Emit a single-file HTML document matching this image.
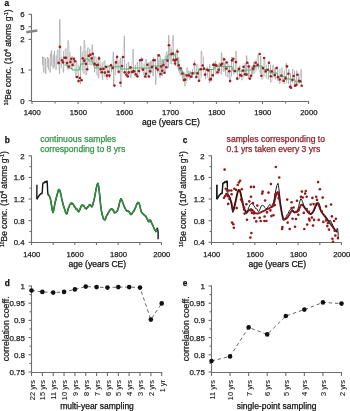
<!DOCTYPE html>
<html><head><meta charset="utf-8"><style>html,body{margin:0;padding:0;background:#fff;width:350px;height:411px;overflow:hidden}svg{display:block;filter:blur(0.35px)}text{font-family:"Liberation Sans",sans-serif}</style></head>
<body><svg width="350" height="411" viewBox="0 0 350 411" font-family="Liberation Sans, sans-serif"><text x="4.50" y="5.70" font-size="8.3" text-anchor="start" fill="#111" stroke="#111" stroke-width="0.25" font-weight="bold" >a</text>
<line x1="31.50" y1="14.00" x2="31.50" y2="101.50" stroke="#6e6e6e" stroke-width="1.1"/>
<line x1="28.50" y1="14.30" x2="31.50" y2="14.30" stroke="#6e6e6e" stroke-width="1.1"/>
<text x="24.50" y="17.20" font-size="7.8" text-anchor="end" fill="#222" stroke="#222" stroke-width="0.25" font-weight="normal" >6</text>
<line x1="28.50" y1="26.70" x2="31.50" y2="26.70" stroke="#6e6e6e" stroke-width="1.1"/>
<text x="24.50" y="29.60" font-size="7.8" text-anchor="end" fill="#222" stroke="#222" stroke-width="0.25" font-weight="normal" >5</text>
<line x1="28.50" y1="39.40" x2="31.50" y2="39.40" stroke="#6e6e6e" stroke-width="1.1"/>
<text x="24.50" y="42.30" font-size="7.8" text-anchor="end" fill="#222" stroke="#222" stroke-width="0.25" font-weight="normal" >2</text>
<line x1="28.50" y1="70.00" x2="31.50" y2="70.00" stroke="#6e6e6e" stroke-width="1.1"/>
<text x="24.50" y="72.90" font-size="7.8" text-anchor="end" fill="#222" stroke="#222" stroke-width="0.25" font-weight="normal" >1</text>
<line x1="28.50" y1="100.60" x2="31.50" y2="100.60" stroke="#6e6e6e" stroke-width="1.1"/>
<text x="24.50" y="103.50" font-size="7.8" text-anchor="end" fill="#222" stroke="#222" stroke-width="0.25" font-weight="normal" >0</text>
<line x1="26.3" y1="32.2" x2="37.3" y2="30.5" stroke="#858585" stroke-width="2.4"/>
<line x1="31.00" y1="101.50" x2="309.00" y2="101.50" stroke="#6e6e6e" stroke-width="1.1"/>
<line x1="32.00" y1="101.50" x2="32.00" y2="104.00" stroke="#6e6e6e" stroke-width="1.1"/>
<text x="32.30" y="115.20" font-size="7.7" text-anchor="middle" fill="#222" stroke="#222" stroke-width="0.25" font-weight="normal" >1400</text>
<line x1="55.05" y1="101.50" x2="55.05" y2="103.50" stroke="#6e6e6e" stroke-width="1.1"/>
<line x1="78.10" y1="101.50" x2="78.10" y2="104.00" stroke="#6e6e6e" stroke-width="1.1"/>
<text x="78.40" y="115.20" font-size="7.7" text-anchor="middle" fill="#222" stroke="#222" stroke-width="0.25" font-weight="normal" >1500</text>
<line x1="101.15" y1="101.50" x2="101.15" y2="103.50" stroke="#6e6e6e" stroke-width="1.1"/>
<line x1="124.20" y1="101.50" x2="124.20" y2="104.00" stroke="#6e6e6e" stroke-width="1.1"/>
<text x="124.50" y="115.20" font-size="7.7" text-anchor="middle" fill="#222" stroke="#222" stroke-width="0.25" font-weight="normal" >1600</text>
<line x1="147.25" y1="101.50" x2="147.25" y2="103.50" stroke="#6e6e6e" stroke-width="1.1"/>
<line x1="170.30" y1="101.50" x2="170.30" y2="104.00" stroke="#6e6e6e" stroke-width="1.1"/>
<text x="170.60" y="115.20" font-size="7.7" text-anchor="middle" fill="#222" stroke="#222" stroke-width="0.25" font-weight="normal" >1700</text>
<line x1="193.35" y1="101.50" x2="193.35" y2="103.50" stroke="#6e6e6e" stroke-width="1.1"/>
<line x1="216.40" y1="101.50" x2="216.40" y2="104.00" stroke="#6e6e6e" stroke-width="1.1"/>
<text x="216.70" y="115.20" font-size="7.7" text-anchor="middle" fill="#222" stroke="#222" stroke-width="0.25" font-weight="normal" >1800</text>
<line x1="239.45" y1="101.50" x2="239.45" y2="103.50" stroke="#6e6e6e" stroke-width="1.1"/>
<line x1="262.50" y1="101.50" x2="262.50" y2="104.00" stroke="#6e6e6e" stroke-width="1.1"/>
<text x="262.80" y="115.20" font-size="7.7" text-anchor="middle" fill="#222" stroke="#222" stroke-width="0.25" font-weight="normal" >1900</text>
<line x1="285.55" y1="101.50" x2="285.55" y2="103.50" stroke="#6e6e6e" stroke-width="1.1"/>
<line x1="308.60" y1="101.50" x2="308.60" y2="104.00" stroke="#6e6e6e" stroke-width="1.1"/>
<text x="308.90" y="115.20" font-size="7.7" text-anchor="middle" fill="#222" stroke="#222" stroke-width="0.25" font-weight="normal" >2000</text>
<text x="171.00" y="124.60" font-size="8.6" text-anchor="middle" fill="#111" stroke="#111" stroke-width="0.25" font-weight="normal" >age (years CE)</text>
<text transform="translate(10.5,57.3) rotate(-90)" font-size="8.5" text-anchor="middle" fill="#222" stroke="#222" stroke-width="0.25"><tspan font-size="5" dy="-3">10</tspan><tspan dy="3">Be conc. (10</tspan><tspan font-size="5" dy="-3">4</tspan><tspan dy="3"> atoms g</tspan><tspan font-size="5" dy="-3">-1</tspan><tspan dy="3">)</tspan></text>
<polyline points="42.50,56.40 42.90,65.00 43.80,72.50 44.20,57.00 45.40,58.40 45.80,73.80 47.20,67.00 47.60,57.00 48.50,58.40 48.90,69.80 50.20,72.50 50.60,53.70 51.60,50.40 52.00,65.80 53.20,68.50 53.60,55.00 54.50,51.00 54.90,67.00 56.10,69.80 56.50,55.70 57.80,49.70 58.20,64.50 59.60,73.80 60.00,19.40 61.20,57.00 61.60,67.80 63.60,72.50 64.00,51.00 65.90,48.40 66.30,65.80 67.90,69.80 68.30,40.40 69.90,51.90 70.30,67.90 71.90,69.40 72.30,56.20 73.80,57.70 74.20,66.40 76.00,78.10 76.40,60.60 78.20,65.00 78.60,82.50 80.40,84.00 80.80,46.00 82.10,51.90 82.50,70.80 84.00,73.70 84.40,40.20 85.90,50.40 86.30,75.20 87.70,70.80 88.10,47.50 89.80,49.00 90.20,65.00 92.00,65.00 92.40,44.60 93.35,53.35 93.75,66.19 94.70,72.30 95.10,56.20 96.90,59.20 97.30,75.20 98.80,78.10 99.20,56.20 100.80,63.50 101.20,73.70 102.70,79.60 103.10,62.00 104.90,60.60 105.30,76.60 107.10,79.60 107.50,65.00 109.30,65.00 109.70,78.10 111.50,72.30 111.90,63.50 113.40,51.90 113.80,85.40 115.10,75.20 115.50,62.00 116.90,54.80 117.30,69.40 118.80,73.70 119.20,60.60 120.70,57.70 121.10,86.90 122.20,72.30 122.60,56.20 124.40,35.80 124.80,73.70 126.50,76.60 126.90,63.50 128.70,62.00 129.10,75.20 130.90,78.10 131.30,66.40 133.10,49.00 133.50,73.70 135.30,76.60 135.70,65.00 137.50,62.00 137.90,78.10 139.70,73.70 140.10,59.20 141.80,57.70 142.20,70.80 144.00,75.20 144.40,63.50 146.20,59.20 146.60,78.10 148.10,76.10 148.50,62.50 149.35,62.25 149.75,73.09 150.60,74.40 151.00,60.80 151.90,61.49 152.30,73.18 153.20,76.10 153.60,57.40 155.40,62.50 155.80,84.60 157.40,72.70 157.80,54.00 158.70,59.52 159.10,72.25 160.00,77.80 160.40,55.70 161.25,59.65 161.65,75.45 162.50,76.10 162.90,59.00 163.80,61.64 164.20,71.00 165.10,72.70 165.50,55.70 166.80,51.68 167.20,68.36 168.50,67.60 168.90,35.20 169.80,44.47 170.20,59.59 171.10,64.20 171.50,48.90 173.10,35.20 173.50,60.80 175.50,65.90 175.90,52.30 177.20,48.90 177.60,67.60 178.45,70.51 178.85,56.98 179.70,64.20 180.10,74.40 181.00,75.71 181.40,67.89 182.30,69.30 182.70,79.50 183.55,79.67 183.95,73.80 184.80,72.70 185.20,86.30 186.90,81.20 187.30,67.60 188.40,70.88 188.80,77.48 189.90,79.50 190.30,71.00 191.20,72.08 191.60,76.83 192.50,77.80 192.90,69.30 194.70,60.80 195.10,74.40 196.80,77.80 197.20,64.20 198.90,68.50 199.30,81.60 201.10,77.30 201.50,51.00 203.30,56.90 203.70,71.40 205.50,78.70 205.90,68.50 207.60,67.10 208.00,77.30 209.50,83.10 209.90,64.20 211.30,70.00 211.70,81.60 213.50,77.30 213.90,62.70 215.70,61.20 216.10,74.40 217.90,74.40 218.30,64.20 219.30,62.70 219.70,72.90 221.20,74.40 221.60,52.50 223.00,56.90 223.40,71.40 224.30,71.29 224.70,62.94 225.60,61.20 226.00,75.80 227.80,77.30 228.20,64.20 229.70,65.60 230.10,81.60 231.50,75.80 231.90,56.90 233.60,59.80 234.00,74.40 235.80,72.90 236.20,51.00 237.30,68.50 237.70,80.20 239.50,78.70 239.90,65.60 241.70,70.00 242.10,80.20 243.90,77.30 244.30,65.60 245.10,63.15 245.50,75.52 246.30,75.80 246.70,55.40 248.20,62.70 248.60,77.30 249.00,79.40 249.40,64.80 251.30,66.20 251.70,77.90 252.55,74.36 252.95,65.74 253.80,61.90 254.20,73.50 256.00,70.60 256.40,60.40 258.20,54.60 258.60,69.20 260.40,73.50 260.80,56.00 261.80,66.20 262.20,79.40 264.00,76.40 264.40,57.50 266.20,64.80 266.60,77.90 268.40,79.40 268.80,61.90 270.60,64.80 271.00,82.30 272.80,77.90 273.20,64.80 274.10,68.11 274.50,77.29 275.40,79.40 275.80,67.70 277.60,66.20 278.00,80.80 279.80,83.70 280.20,69.20 282.00,67.70 282.40,82.30 284.20,83.70 284.60,70.60 286.40,63.30 286.80,82.30 288.60,83.70 289.00,69.20 290.50,73.50 290.90,88.10 292.50,82.30 292.90,69.20 294.40,70.60 294.80,85.20 296.60,86.60 297.00,70.60 298.80,73.50 299.20,83.70 301.20,69.20 301.50,83.70" fill="none" stroke="#b5b5b5" stroke-width="0.45" stroke-linejoin="round" />
<path d="M42.50 56.40L42.55 65.00M43.80 72.50L43.85 57.00M45.40 58.40L45.45 73.80M47.20 67.00L47.25 57.00M48.50 58.40L48.55 69.80M50.20 72.50L50.25 53.70M51.60 50.40L51.65 65.80M53.20 68.50L53.25 55.00M54.50 51.00L54.55 67.00M56.10 69.80L56.15 55.70M57.80 49.70L57.85 64.50M59.60 73.80L59.65 19.40M61.20 57.00L61.25 67.80M63.60 72.50L63.65 51.00M65.90 48.40L65.95 65.80M67.90 69.80L67.95 40.40M69.90 51.90L69.95 67.90M71.90 69.40L71.95 56.20M73.80 57.70L73.85 66.40M76.00 78.10L76.05 60.60M78.20 65.00L78.25 82.50M80.40 84.00L80.45 46.00M82.10 51.90L82.15 70.80M84.00 73.70L84.05 40.20M85.90 50.40L85.95 75.20M87.70 70.80L87.75 47.50M89.80 49.00L89.85 65.00M92.00 65.00L92.05 44.60M93.35 53.35L93.40 66.19M94.70 72.30L94.75 56.20M96.90 59.20L96.95 75.20M98.80 78.10L98.85 56.20M100.80 63.50L100.85 73.70M102.70 79.60L102.75 62.00M104.90 60.60L104.95 76.60M107.10 79.60L107.15 65.00M109.30 65.00L109.35 78.10M111.50 72.30L111.55 63.50M113.40 51.90L113.45 85.40M115.10 75.20L115.15 62.00M116.90 54.80L116.95 69.40M118.80 73.70L118.85 60.60M120.70 57.70L120.75 86.90M122.20 72.30L122.25 56.20M124.40 35.80L124.45 73.70M126.50 76.60L126.55 63.50M128.70 62.00L128.75 75.20M130.90 78.10L130.95 66.40M133.10 49.00L133.15 73.70M135.30 76.60L135.35 65.00M137.50 62.00L137.55 78.10M139.70 73.70L139.75 59.20M141.80 57.70L141.85 70.80M144.00 75.20L144.05 63.50M146.20 59.20L146.25 78.10M148.10 76.10L148.15 62.50M149.35 62.25L149.40 73.09M150.60 74.40L150.65 60.80M151.90 61.49L151.95 73.18M153.20 76.10L153.25 57.40M155.40 62.50L155.45 84.60M157.40 72.70L157.45 54.00M158.70 59.52L158.75 72.25M160.00 77.80L160.05 55.70M161.25 59.65L161.30 75.45M162.50 76.10L162.55 59.00M163.80 61.64L163.85 71.00M165.10 72.70L165.15 55.70M166.80 51.68L166.85 68.36M168.50 67.60L168.55 35.20M169.80 44.47L169.85 59.59M171.10 64.20L171.15 48.90M173.10 35.20L173.15 60.80M175.50 65.90L175.55 52.30M177.20 48.90L177.25 67.60M178.45 70.51L178.50 56.98M179.70 64.20L179.75 74.40M181.00 75.71L181.05 67.89M182.30 69.30L182.35 79.50M183.55 79.67L183.60 73.80M184.80 72.70L184.85 86.30M186.90 81.20L186.95 67.60M188.40 70.88L188.45 77.48M189.90 79.50L189.95 71.00M191.20 72.08L191.25 76.83M192.50 77.80L192.55 69.30M194.70 60.80L194.75 74.40M196.80 77.80L196.85 64.20M198.90 68.50L198.95 81.60M201.10 77.30L201.15 51.00M203.30 56.90L203.35 71.40M205.50 78.70L205.55 68.50M207.60 67.10L207.65 77.30M209.50 83.10L209.55 64.20M211.30 70.00L211.35 81.60M213.50 77.30L213.55 62.70M215.70 61.20L215.75 74.40M217.90 74.40L217.95 64.20M219.30 62.70L219.35 72.90M221.20 74.40L221.25 52.50M223.00 56.90L223.05 71.40M224.30 71.29L224.35 62.94M225.60 61.20L225.65 75.80M227.80 77.30L227.85 64.20M229.70 65.60L229.75 81.60M231.50 75.80L231.55 56.90M233.60 59.80L233.65 74.40M235.80 72.90L235.85 51.00M237.30 68.50L237.35 80.20M239.50 78.70L239.55 65.60M241.70 70.00L241.75 80.20M243.90 77.30L243.95 65.60M245.10 63.15L245.15 75.52M246.30 75.80L246.35 55.40M248.20 62.70L248.25 77.30M249.00 79.40L249.05 64.80M251.30 66.20L251.35 77.90M252.55 74.36L252.60 65.74M253.80 61.90L253.85 73.50M256.00 70.60L256.05 60.40M258.20 54.60L258.25 69.20M260.40 73.50L260.45 56.00M261.80 66.20L261.85 79.40M264.00 76.40L264.05 57.50M266.20 64.80L266.25 77.90M268.40 79.40L268.45 61.90M270.60 64.80L270.65 82.30M272.80 77.90L272.85 64.80M274.10 68.11L274.15 77.29M275.40 79.40L275.45 67.70M277.60 66.20L277.65 80.80M279.80 83.70L279.85 69.20M282.00 67.70L282.05 82.30M284.20 83.70L284.25 70.60M286.40 63.30L286.45 82.30M288.60 83.70L288.65 69.20M290.50 73.50L290.55 88.10M292.50 82.30L292.55 69.20M294.40 70.60L294.45 85.20M296.60 86.60L296.65 70.60M298.80 73.50L298.85 83.70M301.20 69.20L301.25 83.70" stroke="#999" stroke-width="0.65" fill="none"/>
<polyline points="64.50,64.90 67.50,64.90 68.40,67.90 72.00,68.50 72.50,70.00 79.30,70.00 80.70,64.00 83.60,63.90 84.50,58.90 88.00,58.90 89.00,61.00 92.00,61.00 95.00,67.90 106.00,67.90 107.00,66.70 120.00,66.70 121.00,69.00 129.00,69.00 130.00,67.90 152.00,67.90 153.00,66.00 163.00,66.00 164.00,60.00 167.00,59.00 168.00,54.80 175.00,54.80 176.00,60.60 178.00,60.60 179.00,69.40 183.00,72.00 184.00,74.70 189.00,74.70 190.00,72.90 198.00,72.90 199.00,69.40 214.00,69.40 215.00,66.50 232.00,66.50 233.00,71.00 246.00,71.00 247.00,70.00 254.00,70.00 255.00,66.10 262.00,66.10 263.00,69.60 269.00,69.60 270.00,73.00 277.00,73.00 278.00,76.40 286.00,76.40 287.00,79.00 294.50,79.00 295.50,82.00 302.00,82.00" fill="none" stroke="#58b674" stroke-width="1.05" stroke-linejoin="round" />
<circle cx="59.90" cy="46.90" r="1.3" fill="#a01c22"/>
<circle cx="58.70" cy="62.90" r="1.3" fill="#a01c22"/>
<circle cx="62.00" cy="60.20" r="1.3" fill="#a01c22"/>
<circle cx="63.10" cy="62.40" r="1.3" fill="#a01c22"/>
<circle cx="64.40" cy="57.70" r="1.3" fill="#a01c22"/>
<circle cx="66.00" cy="57.70" r="1.3" fill="#a01c22"/>
<circle cx="67.10" cy="63.00" r="1.3" fill="#a01c22"/>
<circle cx="68.80" cy="66.50" r="1.3" fill="#a01c22"/>
<circle cx="70.40" cy="61.90" r="1.3" fill="#a01c22"/>
<circle cx="71.30" cy="58.80" r="1.3" fill="#a01c22"/>
<circle cx="72.60" cy="64.90" r="1.3" fill="#a01c22"/>
<circle cx="74.00" cy="58.80" r="1.3" fill="#a01c22"/>
<circle cx="75.00" cy="61.30" r="1.3" fill="#a01c22"/>
<circle cx="77.00" cy="77.00" r="1.3" fill="#a01c22"/>
<circle cx="78.60" cy="81.00" r="1.3" fill="#a01c22"/>
<circle cx="80.00" cy="78.00" r="1.3" fill="#a01c22"/>
<circle cx="81.60" cy="80.30" r="1.3" fill="#a01c22"/>
<circle cx="82.80" cy="58.40" r="1.3" fill="#a01c22"/>
<circle cx="84.30" cy="60.80" r="1.3" fill="#a01c22"/>
<circle cx="86.00" cy="63.90" r="1.3" fill="#a01c22"/>
<circle cx="87.10" cy="69.30" r="1.3" fill="#a01c22"/>
<circle cx="88.70" cy="55.90" r="1.3" fill="#a01c22"/>
<circle cx="90.40" cy="54.80" r="1.3" fill="#a01c22"/>
<circle cx="91.70" cy="58.40" r="1.3" fill="#a01c22"/>
<circle cx="92.80" cy="53.70" r="1.3" fill="#a01c22"/>
<circle cx="94.70" cy="63.90" r="1.3" fill="#a01c22"/>
<circle cx="96.80" cy="65.20" r="1.3" fill="#a01c22"/>
<circle cx="97.90" cy="64.90" r="1.3" fill="#a01c22"/>
<circle cx="99.00" cy="58.40" r="1.3" fill="#a01c22"/>
<circle cx="100.70" cy="69.30" r="1.3" fill="#a01c22"/>
<circle cx="101.80" cy="72.30" r="1.3" fill="#a01c22"/>
<circle cx="103.40" cy="69.00" r="1.3" fill="#a01c22"/>
<circle cx="104.80" cy="72.60" r="1.3" fill="#a01c22"/>
<circle cx="105.90" cy="66.80" r="1.3" fill="#a01c22"/>
<circle cx="107.00" cy="75.60" r="1.3" fill="#a01c22"/>
<circle cx="108.30" cy="71.70" r="1.3" fill="#a01c22"/>
<circle cx="109.40" cy="75.60" r="1.3" fill="#a01c22"/>
<circle cx="111.00" cy="65.20" r="1.3" fill="#a01c22"/>
<circle cx="112.70" cy="67.90" r="1.3" fill="#a01c22"/>
<circle cx="116.00" cy="62.40" r="1.3" fill="#a01c22"/>
<circle cx="117.10" cy="57.00" r="1.3" fill="#a01c22"/>
<circle cx="118.70" cy="71.70" r="1.3" fill="#a01c22"/>
<circle cx="114.40" cy="85.60" r="1.3" fill="#a01c22"/>
<circle cx="120.40" cy="82.70" r="1.3" fill="#a01c22"/>
<circle cx="122.00" cy="66.00" r="1.3" fill="#a01c22"/>
<circle cx="123.10" cy="57.00" r="1.3" fill="#a01c22"/>
<circle cx="124.70" cy="72.30" r="1.3" fill="#a01c22"/>
<circle cx="126.40" cy="74.50" r="1.3" fill="#a01c22"/>
<circle cx="127.80" cy="76.40" r="1.3" fill="#a01c22"/>
<circle cx="128.70" cy="72.40" r="1.3" fill="#a01c22"/>
<circle cx="130.40" cy="67.40" r="1.3" fill="#a01c22"/>
<circle cx="132.00" cy="72.10" r="1.3" fill="#a01c22"/>
<circle cx="133.40" cy="71.00" r="1.3" fill="#a01c22"/>
<circle cx="134.20" cy="71.50" r="1.3" fill="#a01c22"/>
<circle cx="135.80" cy="74.30" r="1.3" fill="#a01c22"/>
<circle cx="137.30" cy="76.20" r="1.3" fill="#a01c22"/>
<circle cx="138.90" cy="71.00" r="1.3" fill="#a01c22"/>
<circle cx="140.20" cy="60.30" r="1.3" fill="#a01c22"/>
<circle cx="141.90" cy="59.80" r="1.3" fill="#a01c22"/>
<circle cx="143.00" cy="69.60" r="1.3" fill="#a01c22"/>
<circle cx="145.10" cy="76.50" r="1.3" fill="#a01c22"/>
<circle cx="146.00" cy="73.70" r="1.3" fill="#a01c22"/>
<circle cx="147.30" cy="64.70" r="1.3" fill="#a01c22"/>
<circle cx="149.00" cy="76.50" r="1.3" fill="#a01c22"/>
<circle cx="150.10" cy="71.30" r="1.3" fill="#a01c22"/>
<circle cx="152.00" cy="66.90" r="1.3" fill="#a01c22"/>
<circle cx="153.40" cy="60.30" r="1.3" fill="#a01c22"/>
<circle cx="154.70" cy="60.30" r="1.3" fill="#a01c22"/>
<circle cx="156.10" cy="68.00" r="1.3" fill="#a01c22"/>
<circle cx="157.70" cy="69.60" r="1.3" fill="#a01c22"/>
<circle cx="158.80" cy="55.40" r="1.3" fill="#a01c22"/>
<circle cx="160.50" cy="74.00" r="1.3" fill="#a01c22"/>
<circle cx="161.20" cy="66.50" r="1.3" fill="#a01c22"/>
<circle cx="162.20" cy="70.80" r="1.3" fill="#a01c22"/>
<circle cx="163.40" cy="65.00" r="1.3" fill="#a01c22"/>
<circle cx="164.50" cy="72.70" r="1.3" fill="#a01c22"/>
<circle cx="166.30" cy="67.20" r="1.3" fill="#a01c22"/>
<circle cx="167.50" cy="60.60" r="1.3" fill="#a01c22"/>
<circle cx="168.90" cy="45.30" r="1.3" fill="#a01c22"/>
<circle cx="171.40" cy="54.10" r="1.3" fill="#a01c22"/>
<circle cx="172.90" cy="53.60" r="1.3" fill="#a01c22"/>
<circle cx="173.60" cy="59.90" r="1.3" fill="#a01c22"/>
<circle cx="175.00" cy="60.60" r="1.3" fill="#a01c22"/>
<circle cx="176.50" cy="59.20" r="1.3" fill="#a01c22"/>
<circle cx="175.00" cy="63.50" r="1.3" fill="#a01c22"/>
<circle cx="177.50" cy="51.60" r="1.3" fill="#a01c22"/>
<circle cx="178.70" cy="65.30" r="1.3" fill="#a01c22"/>
<circle cx="180.60" cy="68.20" r="1.3" fill="#a01c22"/>
<circle cx="182.30" cy="73.50" r="1.3" fill="#a01c22"/>
<circle cx="184.10" cy="80.30" r="1.3" fill="#a01c22"/>
<circle cx="185.00" cy="79.60" r="1.3" fill="#a01c22"/>
<circle cx="186.70" cy="75.50" r="1.3" fill="#a01c22"/>
<circle cx="188.90" cy="75.50" r="1.3" fill="#a01c22"/>
<circle cx="191.10" cy="76.70" r="1.3" fill="#a01c22"/>
<circle cx="192.60" cy="73.40" r="1.3" fill="#a01c22"/>
<circle cx="194.40" cy="64.30" r="1.3" fill="#a01c22"/>
<circle cx="196.30" cy="77.10" r="1.3" fill="#a01c22"/>
<circle cx="197.50" cy="73.40" r="1.3" fill="#a01c22"/>
<circle cx="199.00" cy="80.70" r="1.3" fill="#a01c22"/>
<circle cx="200.70" cy="69.20" r="1.3" fill="#a01c22"/>
<circle cx="202.70" cy="65.50" r="1.3" fill="#a01c22"/>
<circle cx="203.90" cy="68.60" r="1.3" fill="#a01c22"/>
<circle cx="205.10" cy="74.60" r="1.3" fill="#a01c22"/>
<circle cx="207.20" cy="69.80" r="1.3" fill="#a01c22"/>
<circle cx="208.40" cy="70.40" r="1.3" fill="#a01c22"/>
<circle cx="210.00" cy="79.50" r="1.3" fill="#a01c22"/>
<circle cx="210.80" cy="78.90" r="1.3" fill="#a01c22"/>
<circle cx="212.70" cy="75.20" r="1.3" fill="#a01c22"/>
<circle cx="213.30" cy="64.90" r="1.3" fill="#a01c22"/>
<circle cx="215.10" cy="64.90" r="1.3" fill="#a01c22"/>
<circle cx="216.30" cy="65.50" r="1.3" fill="#a01c22"/>
<circle cx="217.50" cy="72.20" r="1.3" fill="#a01c22"/>
<circle cx="218.70" cy="69.80" r="1.3" fill="#a01c22"/>
<circle cx="220.90" cy="64.90" r="1.3" fill="#a01c22"/>
<circle cx="222.10" cy="63.70" r="1.3" fill="#a01c22"/>
<circle cx="224.20" cy="59.40" r="1.3" fill="#a01c22"/>
<circle cx="226.30" cy="68.60" r="1.3" fill="#a01c22"/>
<circle cx="226.80" cy="62.50" r="1.3" fill="#a01c22"/>
<circle cx="229.30" cy="71.30" r="1.3" fill="#a01c22"/>
<circle cx="230.10" cy="81.10" r="1.3" fill="#a01c22"/>
<circle cx="232.00" cy="60.40" r="1.3" fill="#a01c22"/>
<circle cx="233.30" cy="58.80" r="1.3" fill="#a01c22"/>
<circle cx="234.70" cy="71.00" r="1.3" fill="#a01c22"/>
<circle cx="235.90" cy="62.10" r="1.3" fill="#a01c22"/>
<circle cx="237.20" cy="78.60" r="1.3" fill="#a01c22"/>
<circle cx="239.00" cy="68.90" r="1.3" fill="#a01c22"/>
<circle cx="240.20" cy="75.00" r="1.3" fill="#a01c22"/>
<circle cx="241.40" cy="75.80" r="1.3" fill="#a01c22"/>
<circle cx="243.00" cy="70.60" r="1.3" fill="#a01c22"/>
<circle cx="243.50" cy="66.70" r="1.3" fill="#a01c22"/>
<circle cx="245.00" cy="74.30" r="1.3" fill="#a01c22"/>
<circle cx="246.60" cy="74.60" r="1.3" fill="#a01c22"/>
<circle cx="247.20" cy="62.80" r="1.3" fill="#a01c22"/>
<circle cx="248.70" cy="66.50" r="1.3" fill="#a01c22"/>
<circle cx="249.90" cy="78.60" r="1.3" fill="#a01c22"/>
<circle cx="251.10" cy="75.80" r="1.3" fill="#a01c22"/>
<circle cx="253.00" cy="68.60" r="1.3" fill="#a01c22"/>
<circle cx="254.20" cy="66.10" r="1.3" fill="#a01c22"/>
<circle cx="255.60" cy="62.80" r="1.3" fill="#a01c22"/>
<circle cx="257.60" cy="64.90" r="1.3" fill="#a01c22"/>
<circle cx="259.70" cy="54.00" r="1.3" fill="#a01c22"/>
<circle cx="261.40" cy="75.80" r="1.3" fill="#a01c22"/>
<circle cx="263.00" cy="68.00" r="1.3" fill="#a01c22"/>
<circle cx="264.10" cy="58.00" r="1.3" fill="#a01c22"/>
<circle cx="265.70" cy="71.40" r="1.3" fill="#a01c22"/>
<circle cx="267.70" cy="69.70" r="1.3" fill="#a01c22"/>
<circle cx="269.00" cy="62.70" r="1.3" fill="#a01c22"/>
<circle cx="270.80" cy="76.30" r="1.3" fill="#a01c22"/>
<circle cx="271.70" cy="71.40" r="1.3" fill="#a01c22"/>
<circle cx="274.80" cy="75.00" r="1.3" fill="#a01c22"/>
<circle cx="276.60" cy="68.00" r="1.3" fill="#a01c22"/>
<circle cx="277.90" cy="77.30" r="1.3" fill="#a01c22"/>
<circle cx="279.70" cy="79.50" r="1.3" fill="#a01c22"/>
<circle cx="281.40" cy="75.50" r="1.3" fill="#a01c22"/>
<circle cx="283.70" cy="80.80" r="1.3" fill="#a01c22"/>
<circle cx="285.40" cy="78.40" r="1.3" fill="#a01c22"/>
<circle cx="287.00" cy="66.40" r="1.3" fill="#a01c22"/>
<circle cx="288.40" cy="73.70" r="1.3" fill="#a01c22"/>
<circle cx="290.00" cy="86.70" r="1.3" fill="#a01c22"/>
<circle cx="291.00" cy="87.70" r="1.3" fill="#a01c22"/>
<circle cx="292.40" cy="80.00" r="1.3" fill="#a01c22"/>
<circle cx="293.70" cy="76.00" r="1.3" fill="#a01c22"/>
<circle cx="295.00" cy="85.70" r="1.3" fill="#a01c22"/>
<circle cx="296.40" cy="84.80" r="1.3" fill="#a01c22"/>
<circle cx="297.40" cy="74.70" r="1.3" fill="#a01c22"/>
<circle cx="299.00" cy="80.80" r="1.3" fill="#a01c22"/>
<circle cx="300.10" cy="81.30" r="1.3" fill="#a01c22"/>
<circle cx="301.70" cy="85.70" r="1.3" fill="#a01c22"/>
<text x="4.70" y="143.00" font-size="8.3" text-anchor="start" fill="#111" stroke="#111" stroke-width="0.25" font-weight="bold" >b</text>
<line x1="31.50" y1="155.50" x2="31.50" y2="242.50" stroke="#6e6e6e" stroke-width="1.1"/>
<line x1="28.50" y1="155.80" x2="31.50" y2="155.80" stroke="#6e6e6e" stroke-width="1.1"/>
<text x="24.60" y="158.70" font-size="7.8" text-anchor="end" fill="#222" stroke="#222" stroke-width="0.25" font-weight="normal" >2</text>
<line x1="29.50" y1="166.62" x2="31.50" y2="166.62" stroke="#6e6e6e" stroke-width="1.1"/>
<line x1="28.50" y1="177.43" x2="31.50" y2="177.43" stroke="#6e6e6e" stroke-width="1.1"/>
<text x="24.60" y="180.33" font-size="7.8" text-anchor="end" fill="#222" stroke="#222" stroke-width="0.25" font-weight="normal" >1.6</text>
<line x1="29.50" y1="188.24" x2="31.50" y2="188.24" stroke="#6e6e6e" stroke-width="1.1"/>
<line x1="28.50" y1="199.05" x2="31.50" y2="199.05" stroke="#6e6e6e" stroke-width="1.1"/>
<text x="24.60" y="201.95" font-size="7.8" text-anchor="end" fill="#222" stroke="#222" stroke-width="0.25" font-weight="normal" >1.2</text>
<line x1="29.50" y1="209.86" x2="31.50" y2="209.86" stroke="#6e6e6e" stroke-width="1.1"/>
<line x1="28.50" y1="220.68" x2="31.50" y2="220.68" stroke="#6e6e6e" stroke-width="1.1"/>
<text x="24.60" y="223.58" font-size="7.8" text-anchor="end" fill="#222" stroke="#222" stroke-width="0.25" font-weight="normal" >0.8</text>
<line x1="29.50" y1="231.49" x2="31.50" y2="231.49" stroke="#6e6e6e" stroke-width="1.1"/>
<line x1="28.50" y1="242.30" x2="31.50" y2="242.30" stroke="#6e6e6e" stroke-width="1.1"/>
<text x="24.60" y="245.20" font-size="7.8" text-anchor="end" fill="#222" stroke="#222" stroke-width="0.25" font-weight="normal" >0.4</text>
<line x1="31.00" y1="242.50" x2="161.50" y2="242.50" stroke="#6e6e6e" stroke-width="1.1"/>
<line x1="31.50" y1="242.50" x2="31.50" y2="245.00" stroke="#6e6e6e" stroke-width="1.1"/>
<text x="31.80" y="257.00" font-size="7.7" text-anchor="middle" fill="#222" stroke="#222" stroke-width="0.25" font-weight="normal" >1400</text>
<line x1="53.16" y1="242.50" x2="53.16" y2="245.00" stroke="#6e6e6e" stroke-width="1.1"/>
<line x1="74.82" y1="242.50" x2="74.82" y2="245.00" stroke="#6e6e6e" stroke-width="1.1"/>
<text x="75.12" y="257.00" font-size="7.7" text-anchor="middle" fill="#222" stroke="#222" stroke-width="0.25" font-weight="normal" >1600</text>
<line x1="96.48" y1="242.50" x2="96.48" y2="245.00" stroke="#6e6e6e" stroke-width="1.1"/>
<line x1="118.14" y1="242.50" x2="118.14" y2="245.00" stroke="#6e6e6e" stroke-width="1.1"/>
<text x="118.44" y="257.00" font-size="7.7" text-anchor="middle" fill="#222" stroke="#222" stroke-width="0.25" font-weight="normal" >1800</text>
<line x1="139.80" y1="242.50" x2="139.80" y2="245.00" stroke="#6e6e6e" stroke-width="1.1"/>
<line x1="161.46" y1="242.50" x2="161.46" y2="245.00" stroke="#6e6e6e" stroke-width="1.1"/>
<text x="161.76" y="257.00" font-size="7.7" text-anchor="middle" fill="#222" stroke="#222" stroke-width="0.25" font-weight="normal" >2000</text>
<text x="97.30" y="267.30" font-size="8.6" text-anchor="middle" fill="#111" stroke="#111" stroke-width="0.25" font-weight="normal" >age (years CE)</text>
<text transform="translate(6.6,199.1) rotate(-90)" font-size="8.5" text-anchor="middle" fill="#222" stroke="#222" stroke-width="0.25"><tspan font-size="5" dy="-3">10</tspan><tspan dy="3">Be conc. (10</tspan><tspan font-size="5" dy="-3">4</tspan><tspan dy="3"> atoms g</tspan><tspan font-size="5" dy="-3">-1</tspan><tspan dy="3">)</tspan></text>
<text x="40.20" y="142.30" font-size="8.6" text-anchor="start" fill="#34944a" stroke="#34944a" stroke-width="0.25" font-weight="normal" >continuous samples</text>
<text x="40.20" y="152.00" font-size="8.6" text-anchor="start" fill="#34944a" stroke="#34944a" stroke-width="0.25" font-weight="normal" >corresponding to 8 yrs</text>
<text x="182.70" y="143.20" font-size="8.3" text-anchor="start" fill="#111" stroke="#111" stroke-width="0.25" font-weight="bold" >c</text>
<line x1="211.50" y1="155.50" x2="211.50" y2="242.50" stroke="#6e6e6e" stroke-width="1.1"/>
<line x1="208.50" y1="155.80" x2="211.50" y2="155.80" stroke="#6e6e6e" stroke-width="1.1"/>
<text x="204.60" y="158.70" font-size="7.8" text-anchor="end" fill="#222" stroke="#222" stroke-width="0.25" font-weight="normal" >2</text>
<line x1="209.50" y1="166.62" x2="211.50" y2="166.62" stroke="#6e6e6e" stroke-width="1.1"/>
<line x1="208.50" y1="177.43" x2="211.50" y2="177.43" stroke="#6e6e6e" stroke-width="1.1"/>
<text x="204.60" y="180.33" font-size="7.8" text-anchor="end" fill="#222" stroke="#222" stroke-width="0.25" font-weight="normal" >1.6</text>
<line x1="209.50" y1="188.24" x2="211.50" y2="188.24" stroke="#6e6e6e" stroke-width="1.1"/>
<line x1="208.50" y1="199.05" x2="211.50" y2="199.05" stroke="#6e6e6e" stroke-width="1.1"/>
<text x="204.60" y="201.95" font-size="7.8" text-anchor="end" fill="#222" stroke="#222" stroke-width="0.25" font-weight="normal" >1.2</text>
<line x1="209.50" y1="209.86" x2="211.50" y2="209.86" stroke="#6e6e6e" stroke-width="1.1"/>
<line x1="208.50" y1="220.68" x2="211.50" y2="220.68" stroke="#6e6e6e" stroke-width="1.1"/>
<text x="204.60" y="223.58" font-size="7.8" text-anchor="end" fill="#222" stroke="#222" stroke-width="0.25" font-weight="normal" >0.8</text>
<line x1="209.50" y1="231.49" x2="211.50" y2="231.49" stroke="#6e6e6e" stroke-width="1.1"/>
<line x1="208.50" y1="242.30" x2="211.50" y2="242.30" stroke="#6e6e6e" stroke-width="1.1"/>
<text x="204.60" y="245.20" font-size="7.8" text-anchor="end" fill="#222" stroke="#222" stroke-width="0.25" font-weight="normal" >0.4</text>
<line x1="211.00" y1="242.50" x2="341.50" y2="242.50" stroke="#6e6e6e" stroke-width="1.1"/>
<line x1="211.50" y1="242.50" x2="211.50" y2="245.00" stroke="#6e6e6e" stroke-width="1.1"/>
<text x="211.80" y="257.00" font-size="7.7" text-anchor="middle" fill="#222" stroke="#222" stroke-width="0.25" font-weight="normal" >1400</text>
<line x1="233.16" y1="242.50" x2="233.16" y2="245.00" stroke="#6e6e6e" stroke-width="1.1"/>
<line x1="254.82" y1="242.50" x2="254.82" y2="245.00" stroke="#6e6e6e" stroke-width="1.1"/>
<text x="255.12" y="257.00" font-size="7.7" text-anchor="middle" fill="#222" stroke="#222" stroke-width="0.25" font-weight="normal" >1600</text>
<line x1="276.48" y1="242.50" x2="276.48" y2="245.00" stroke="#6e6e6e" stroke-width="1.1"/>
<line x1="298.14" y1="242.50" x2="298.14" y2="245.00" stroke="#6e6e6e" stroke-width="1.1"/>
<text x="298.44" y="257.00" font-size="7.7" text-anchor="middle" fill="#222" stroke="#222" stroke-width="0.25" font-weight="normal" >1800</text>
<line x1="319.80" y1="242.50" x2="319.80" y2="245.00" stroke="#6e6e6e" stroke-width="1.1"/>
<line x1="341.46" y1="242.50" x2="341.46" y2="245.00" stroke="#6e6e6e" stroke-width="1.1"/>
<text x="341.76" y="257.00" font-size="7.7" text-anchor="middle" fill="#222" stroke="#222" stroke-width="0.25" font-weight="normal" >2000</text>
<text x="277.30" y="267.30" font-size="8.6" text-anchor="middle" fill="#111" stroke="#111" stroke-width="0.25" font-weight="normal" >age (years CE)</text>
<text transform="translate(185.6,199.1) rotate(-90)" font-size="8.5" text-anchor="middle" fill="#222" stroke="#222" stroke-width="0.25"><tspan font-size="5" dy="-3">10</tspan><tspan dy="3">Be conc. (10</tspan><tspan font-size="5" dy="-3">4</tspan><tspan dy="3"> atoms g</tspan><tspan font-size="5" dy="-3">-1</tspan><tspan dy="3">)</tspan></text>
<text x="226.60" y="142.30" font-size="8.6" text-anchor="start" fill="#8c2128" stroke="#8c2128" stroke-width="0.25" font-weight="normal" >samples corresponding to</text>
<text x="226.60" y="152.00" font-size="8.6" text-anchor="start" fill="#8c2128" stroke="#8c2128" stroke-width="0.25" font-weight="normal" >0.1 yrs taken every 3 yrs</text>
<polyline points="36.90,184.79 36.88,187.83 36.84,191.79 36.83,196.03 36.90,198.70 37.10,198.90 37.40,198.31 37.70,197.99 37.90,196.91 37.90,196.89 38.44,196.80 39.21,195.37 40.03,194.63 40.70,193.58 41.16,193.54 41.52,193.33 41.83,193.72 42.10,193.19 42.33,191.00 42.50,188.44 42.67,185.66 42.90,183.25 43.22,183.05 43.61,182.84 43.99,182.77 44.30,182.52 44.51,182.83 44.65,182.05 44.79,181.83 45.00,181.70 45.32,181.58 45.70,181.92 46.08,181.71 46.40,182.14 46.62,181.50 46.79,181.27 46.93,180.96 47.10,181.08 47.28,183.49 47.46,187.09 47.66,191.31 47.90,193.55 48.21,194.98 48.56,195.21 48.94,195.61 49.30,196.01 49.63,196.67 49.95,197.52 50.29,198.48 50.70,200.32 51.20,203.09 51.76,207.21 52.34,210.66 52.90,212.49 53.40,211.54 53.86,208.85 54.37,206.33 55.00,203.37 55.83,199.96 56.80,195.76 57.77,192.35 58.60,189.77 59.23,189.84 59.73,190.40 60.20,191.66 60.70,193.25 61.24,196.02 61.77,198.82 62.34,200.97 63.00,204.24 63.80,206.74 64.71,209.52 65.62,212.12 66.40,213.82 67.01,213.54 67.53,211.31 68.00,209.76 68.50,207.64 69.04,206.87 69.59,205.27 70.15,204.62 70.70,203.98 71.24,203.34 71.76,203.81 72.31,203.60 72.90,203.96 73.59,205.29 74.35,206.08 75.08,207.45 75.70,208.53 76.14,209.08 76.46,208.81 76.75,208.74 77.10,209.59 77.53,209.76 77.99,211.12 78.48,211.71 79.00,211.30 79.57,210.36 80.18,208.70 80.80,207.02 81.40,205.78 81.97,205.28 82.52,205.26 83.06,205.71 83.60,205.71 84.13,206.27 84.65,207.42 85.17,207.91 85.70,208.44 86.25,208.94 86.80,208.20 87.35,207.68 87.90,206.71 88.43,206.40 88.96,205.76 89.48,204.65 90.00,204.79 90.52,205.17 91.04,205.54 91.57,206.65 92.10,206.37 92.62,205.44 93.12,203.44 93.67,201.47 94.30,198.79 95.09,194.36 95.98,189.56 96.86,185.75 97.60,183.67 98.13,183.38 98.52,185.55 98.88,188.72 99.30,191.96 99.78,196.17 100.27,201.22 100.81,206.37 101.40,210.78 102.07,213.85 102.81,216.73 103.56,219.12 104.30,219.62 104.99,219.83 105.66,218.63 106.35,216.48 107.10,214.78 107.98,213.72 108.94,211.58 109.88,210.04 110.70,209.25 111.35,209.13 111.89,208.79 112.39,209.38 112.90,209.87 113.41,210.99 113.91,211.67 114.42,212.86 115.00,212.64 115.67,212.49 116.40,212.05 117.16,211.14 117.90,209.26 118.64,206.61 119.39,203.30 120.12,200.64 120.80,198.65 121.38,199.15 121.89,200.31 122.41,201.45 123.00,203.12 123.70,205.16 124.46,206.88 125.24,208.79 126.00,209.78 126.75,210.35 127.50,210.83 128.23,211.46 128.90,211.42 129.48,212.21 130.00,213.16 130.52,213.90 131.10,214.13 131.76,214.18 132.46,212.79 133.20,211.57 134.00,210.95 134.90,208.94 135.89,206.53 136.86,203.80 137.70,202.86 138.37,202.73 138.94,202.87 139.44,204.44 139.90,205.77 140.24,207.06 140.46,208.68 140.76,210.27 141.30,211.87 142.22,213.01 143.41,213.94 144.64,215.37 145.70,216.23 146.56,218.03 147.33,218.95 148.01,220.99 148.60,221.65 149.04,221.78 149.35,221.07 149.66,220.42 150.10,220.16 150.73,220.67 151.46,222.78 152.24,224.06 153.00,225.74 153.76,227.56 154.54,229.07 155.27,230.32 155.90,231.45 156.39,230.83 156.79,229.48 157.11,228.27 157.40,228.39 157.65,228.77 157.84,230.32 157.99,231.56 158.10,232.96 158.15,234.78 158.14,236.72 158.12,237.76 158.10,239.33" fill="none" stroke="#151515" stroke-width="1.4" stroke-linejoin="round" />
<polyline points="48.56,194.78 48.94,195.15 49.30,195.92 49.63,196.93 49.95,197.85 50.29,198.25 50.70,200.42 51.20,203.12 51.76,206.77 52.34,210.19 52.90,212.09 53.40,211.69 53.86,209.01 54.37,206.32 55.00,202.95 55.83,199.28 56.80,195.76 57.77,192.45 58.60,189.40 59.23,189.47 59.73,190.23 60.20,192.36 60.70,194.21 61.24,195.56 61.77,198.98 62.34,201.70 63.00,203.67 63.80,206.76 64.71,209.27 65.62,212.73 66.40,213.83 67.01,213.78 67.53,212.08 68.00,209.91 68.50,208.33 69.04,206.79 69.59,204.85 70.15,204.44 70.70,202.91 71.24,202.83 71.76,203.79 72.31,203.11 72.90,203.73 73.59,204.65 74.35,206.98 75.08,207.24 75.70,207.93 76.14,209.47 76.46,208.56 76.75,209.59 77.10,209.54 77.53,210.38 77.99,211.38 78.48,211.50 79.00,211.82 79.57,209.74 80.18,209.06 80.80,206.92 81.40,206.00 81.97,204.68 82.52,205.51 83.06,205.97 83.60,205.09 84.13,206.08 84.65,207.33 85.17,208.58 85.70,208.24 86.25,208.11 86.80,207.83 87.35,207.80 87.90,207.45 88.43,206.32 88.96,205.51 89.48,204.89 90.00,204.49 90.52,204.94 91.04,205.30 91.57,206.55 92.10,207.06 92.62,205.17 93.12,203.91 93.67,200.82 94.30,198.87 95.09,195.10 95.98,190.16 96.86,185.63 97.60,183.28 98.13,183.78 98.52,186.14 98.88,188.16 99.30,191.53 99.78,196.63 100.27,201.95 100.81,206.50 101.40,210.62 102.07,214.32 102.81,216.39 103.56,218.57 104.30,219.58 104.99,219.89 105.66,218.18 106.35,216.26 107.10,215.27 107.98,214.11 108.94,211.51 109.88,210.58 110.70,209.18 111.35,209.47 111.89,209.23 112.39,209.19 112.90,209.60 113.41,210.06 113.91,211.69 114.42,212.42 115.00,212.44 115.67,212.42 116.40,211.68 117.16,211.21 117.90,208.80 118.64,207.52 119.39,203.57 120.12,200.76 120.80,198.86 121.38,199.38 121.89,200.49 122.41,201.78 123.00,203.27 123.70,205.22 124.46,207.27 125.24,208.40 126.00,210.23 126.75,211.29 127.50,210.95 128.23,210.85 128.90,211.23 129.48,212.64 130.00,213.48 130.52,214.61 131.10,214.70 131.76,213.48 132.46,212.63 133.20,211.62 134.00,210.16 134.90,208.92 135.89,206.64 136.86,204.41 137.70,202.16 138.37,202.90 138.94,202.83 139.44,204.14 139.90,205.82 140.24,206.35 140.46,208.09 140.76,210.91 141.30,211.71 142.22,213.03 143.41,214.40 144.64,215.55 145.70,215.71 146.56,217.55 147.33,219.22 148.01,220.65 148.60,221.09 149.04,221.56 149.35,221.39 149.66,219.94 150.10,220.16 150.73,220.52 151.46,222.27 152.24,224.56 153.00,225.36 153.76,227.98 154.54,229.62 155.27,229.83 155.90,231.72 156.39,230.56 156.79,229.99 157.11,228.83" fill="none" stroke="#2e8e3e" stroke-width="1.5" stroke-linejoin="round" />
<polyline points="225.60,193.30 226.51,193.92 227.80,194.88 229.00,196.30 229.96,198.40 230.83,200.97 231.60,203.50 232.21,206.36 232.73,209.17 233.30,210.30 234.00,208.71 234.75,205.45 235.50,202.00 236.24,198.47 236.98,194.76 237.70,192.00 238.39,190.57 239.05,190.10 239.70,190.60 240.34,192.35 240.96,195.08 241.60,198.00 242.23,201.06 242.86,204.31 243.60,207.10 244.44,209.34 245.38,211.11 246.50,212.00 247.87,211.31 249.42,209.74 251.00,209.00 252.57,210.12 254.18,212.06 255.80,213.40 257.43,213.52 259.06,213.04 260.70,212.40 262.34,211.71 263.97,210.86 265.60,210.00 267.27,209.15 268.94,208.29 270.40,207.50 271.57,207.04 272.55,206.65 273.40,205.60 274.09,203.36 274.66,200.47 275.30,197.80 276.10,195.11 276.97,192.64 277.80,192.00 278.53,194.17 279.23,198.17 280.00,202.70 280.95,208.05 281.98,213.93 282.90,218.20 283.57,219.71 284.13,219.62 284.80,219.20 285.66,218.94 286.62,218.37 287.70,217.30 288.94,215.24 290.30,212.69 291.60,211.00 292.77,211.02 293.89,211.90 295.00,212.40 296.15,212.13 297.30,211.47 298.40,210.40 299.45,208.46 300.46,206.10 301.40,204.60 302.21,204.60 302.96,205.47 303.80,206.60 304.81,207.94 305.92,209.55 307.00,211.00 308.01,212.29 309.01,213.42 310.00,214.00 311.04,213.81 312.07,213.07 313.00,212.00 313.74,210.52 314.37,208.70 315.00,207.00 315.67,205.33 316.33,203.78 317.00,203.00 317.64,203.37 318.29,204.53 319.00,206.00 319.67,207.63 320.40,209.59 321.60,211.90 323.57,214.71 326.01,217.89 328.40,221.00 330.66,224.13 332.87,227.21 334.70,229.60 336.03,230.95 336.97,231.61 337.60,232.00" fill="none" stroke="#8a1a1e" stroke-width="1.9" stroke-linejoin="round" />
<polyline points="216.90,184.79 216.88,187.83 216.84,191.79 216.83,196.03 216.90,198.70 217.10,198.90 217.40,198.31 217.70,197.99 217.90,196.91 217.90,196.89 218.44,196.80 219.21,195.37 220.03,194.63 220.70,193.58 221.16,193.54 221.53,193.33 221.83,193.72 222.10,193.19 222.33,191.00 222.50,188.44 222.67,185.66 222.90,183.25 223.22,183.05 223.61,182.84 223.99,182.77 224.30,182.52 224.51,182.83 224.65,182.05 224.79,181.83 225.00,181.70 225.32,181.58 225.70,181.92 226.08,181.71 226.40,182.14 226.62,181.50 226.79,181.27 226.93,180.96 227.10,181.08 227.28,183.49 227.46,187.09 227.66,191.31 227.90,193.55 228.21,194.98 228.56,195.21 228.94,195.61 229.30,196.01 229.63,196.67 229.95,197.52 230.29,198.48 230.70,200.32 231.20,203.09 231.76,207.21 232.34,210.66 232.90,212.49 233.40,211.54 233.86,208.85 234.37,206.33 235.00,203.37 235.83,199.96 236.80,195.76 237.77,192.35 238.60,189.77 239.23,189.84 239.73,190.40 240.20,191.66 240.70,193.25 241.24,196.02 241.77,198.82 242.34,200.97 243.00,204.24 243.80,206.74 244.71,209.52 245.62,212.12 246.40,213.82 247.01,213.54 247.53,211.31 248.00,209.76 248.50,207.64 249.04,206.87 249.59,205.27 250.15,204.62 250.70,203.98 251.24,203.34 251.76,203.81 252.31,203.60 252.90,203.96 253.59,205.29 254.35,206.08 255.08,207.45 255.70,208.53 256.14,209.08 256.46,208.81 256.75,208.74 257.10,209.59 257.53,209.76 257.99,211.12 258.48,211.71 259.00,211.30 259.57,210.36 260.18,208.70 260.80,207.02 261.40,205.78 261.97,205.28 262.52,205.26 263.06,205.71 263.60,205.71 264.13,206.27 264.65,207.42 265.17,207.91 265.70,208.44 266.25,208.94 266.80,208.20 267.35,207.68 267.90,206.71 268.43,206.40 268.96,205.76 269.48,204.65 270.00,204.79 270.52,205.17 271.04,205.54 271.57,206.65 272.10,206.37 272.62,205.44 273.12,203.44 273.67,201.47 274.30,198.79 275.09,194.36 275.98,189.56 276.86,185.75 277.60,183.67 278.13,183.38 278.52,185.55 278.88,188.72 279.30,191.96 279.78,196.17 280.27,201.22 280.81,206.37 281.40,210.78 282.07,213.85 282.81,216.73 283.56,219.12 284.30,219.62 284.99,219.83 285.66,218.63 286.35,216.48 287.10,214.78 287.98,213.72 288.94,211.58 289.88,210.04 290.70,209.25 291.35,209.13 291.89,208.79 292.39,209.38 292.90,209.87 293.41,210.99 293.91,211.67 294.42,212.86 295.00,212.64 295.67,212.49 296.40,212.05 297.16,211.14 297.90,209.26 298.64,206.61 299.39,203.30 300.12,200.64 300.80,198.65 301.38,199.15 301.89,200.31 302.41,201.45 303.00,203.12 303.70,205.16 304.46,206.88 305.24,208.79 306.00,209.78 306.75,210.35 307.50,210.83 308.23,211.46 308.90,211.42 309.48,212.21 310.00,213.16 310.52,213.90 311.10,214.13 311.76,214.18 312.46,212.79 313.20,211.57 314.00,210.95 314.90,208.94 315.89,206.53 316.86,203.80 317.70,202.86 318.37,202.73 318.94,202.87 319.44,204.44 319.90,205.77 320.24,207.06 320.46,208.68 320.76,210.27 321.30,211.87 322.22,213.01 323.41,213.94 324.64,215.37 325.70,216.23 326.56,218.03 327.33,218.95 328.01,220.99 328.60,221.65 329.04,221.78 329.35,221.07 329.66,220.42 330.10,220.16 330.73,220.67 331.46,222.78 332.24,224.06 333.00,225.74 333.76,227.56 334.54,229.07 335.27,230.32 335.90,231.45 336.39,230.83 336.79,229.48 337.11,228.27 337.40,228.39 337.65,228.77 337.84,230.32 337.99,231.56 338.10,232.96 338.15,234.78 338.14,236.72 338.12,237.76 338.10,239.33" fill="none" stroke="#151515" stroke-width="1.0" stroke-linejoin="round" />
<polyline points="216.90,184.79 216.88,187.83 216.84,191.79 216.83,196.03 216.90,198.70 217.10,198.90 217.40,198.31 217.70,197.99 217.90,196.91 217.90,196.89 218.44,196.80 219.21,195.37 220.03,194.63 220.70,193.58 221.16,193.54 221.53,193.33 221.83,193.72 222.10,193.19 222.33,191.00 222.50,188.44 222.67,185.66 222.90,183.25 223.22,183.05 223.61,182.84 223.99,182.77 224.30,182.52 224.51,182.83 224.65,182.05 224.79,181.83 225.00,181.70 225.32,181.58 225.70,181.92 226.08,181.71 226.40,182.14 226.62,181.50 226.79,181.27 226.93,180.96 227.10,181.08 227.28,183.49 227.46,187.09" fill="none" stroke="#151515" stroke-width="1.4" stroke-linejoin="round" />
<circle cx="224.60" cy="169.60" r="1.3" fill="#8e1a1a"/>
<circle cx="225.80" cy="188.70" r="1.3" fill="#8e1a1a"/>
<circle cx="227.00" cy="190.50" r="1.3" fill="#8e1a1a"/>
<circle cx="228.80" cy="190.50" r="1.3" fill="#8e1a1a"/>
<circle cx="231.30" cy="190.50" r="1.3" fill="#8e1a1a"/>
<circle cx="224.00" cy="197.80" r="1.3" fill="#8e1a1a"/>
<circle cx="225.20" cy="196.00" r="1.3" fill="#8e1a1a"/>
<circle cx="226.40" cy="194.40" r="1.3" fill="#8e1a1a"/>
<circle cx="228.00" cy="196.30" r="1.3" fill="#8e1a1a"/>
<circle cx="229.40" cy="199.00" r="1.3" fill="#8e1a1a"/>
<circle cx="228.20" cy="203.90" r="1.3" fill="#8e1a1a"/>
<circle cx="231.60" cy="194.20" r="1.3" fill="#8e1a1a"/>
<circle cx="234.30" cy="188.70" r="1.3" fill="#8e1a1a"/>
<circle cx="236.10" cy="189.90" r="1.3" fill="#8e1a1a"/>
<circle cx="237.70" cy="185.00" r="1.3" fill="#8e1a1a"/>
<circle cx="238.90" cy="182.50" r="1.3" fill="#8e1a1a"/>
<circle cx="240.10" cy="180.80" r="1.3" fill="#8e1a1a"/>
<circle cx="241.80" cy="189.30" r="1.3" fill="#8e1a1a"/>
<circle cx="236.70" cy="208.10" r="1.3" fill="#8e1a1a"/>
<circle cx="241.00" cy="199.60" r="1.3" fill="#8e1a1a"/>
<circle cx="242.20" cy="201.50" r="1.3" fill="#8e1a1a"/>
<circle cx="244.00" cy="207.50" r="1.3" fill="#8e1a1a"/>
<circle cx="251.00" cy="186.90" r="1.3" fill="#8e1a1a"/>
<circle cx="253.90" cy="186.90" r="1.3" fill="#8e1a1a"/>
<circle cx="251.00" cy="196.80" r="1.3" fill="#8e1a1a"/>
<circle cx="246.40" cy="204.30" r="1.3" fill="#8e1a1a"/>
<circle cx="249.30" cy="201.40" r="1.3" fill="#8e1a1a"/>
<circle cx="244.10" cy="209.40" r="1.3" fill="#8e1a1a"/>
<circle cx="247.00" cy="219.70" r="1.3" fill="#8e1a1a"/>
<circle cx="232.10" cy="222.60" r="1.3" fill="#8e1a1a"/>
<circle cx="233.30" cy="224.30" r="1.3" fill="#8e1a1a"/>
<circle cx="233.90" cy="227.70" r="1.3" fill="#8e1a1a"/>
<circle cx="254.40" cy="218.00" r="1.3" fill="#8e1a1a"/>
<circle cx="244.60" cy="213.60" r="1.3" fill="#8e1a1a"/>
<circle cx="250.30" cy="237.60" r="1.3" fill="#8e1a1a"/>
<circle cx="251.40" cy="233.00" r="1.3" fill="#8e1a1a"/>
<circle cx="275.80" cy="167.00" r="1.3" fill="#8e1a1a"/>
<circle cx="279.20" cy="177.50" r="1.3" fill="#8e1a1a"/>
<circle cx="270.90" cy="184.10" r="1.3" fill="#8e1a1a"/>
<circle cx="262.70" cy="191.60" r="1.3" fill="#8e1a1a"/>
<circle cx="262.20" cy="193.60" r="1.3" fill="#8e1a1a"/>
<circle cx="268.50" cy="192.60" r="1.3" fill="#8e1a1a"/>
<circle cx="278.70" cy="193.10" r="1.3" fill="#8e1a1a"/>
<circle cx="265.10" cy="200.50" r="1.3" fill="#8e1a1a"/>
<circle cx="252.90" cy="203.10" r="1.3" fill="#8e1a1a"/>
<circle cx="257.30" cy="205.60" r="1.3" fill="#8e1a1a"/>
<circle cx="251.00" cy="210.40" r="1.3" fill="#8e1a1a"/>
<circle cx="251.90" cy="212.90" r="1.3" fill="#8e1a1a"/>
<circle cx="253.90" cy="213.40" r="1.3" fill="#8e1a1a"/>
<circle cx="256.30" cy="221.40" r="1.3" fill="#8e1a1a"/>
<circle cx="259.70" cy="217.80" r="1.3" fill="#8e1a1a"/>
<circle cx="260.70" cy="221.00" r="1.3" fill="#8e1a1a"/>
<circle cx="264.60" cy="216.50" r="1.3" fill="#8e1a1a"/>
<circle cx="264.40" cy="221.00" r="1.3" fill="#8e1a1a"/>
<circle cx="267.00" cy="212.40" r="1.3" fill="#8e1a1a"/>
<circle cx="270.40" cy="210.40" r="1.3" fill="#8e1a1a"/>
<circle cx="271.40" cy="216.10" r="1.3" fill="#8e1a1a"/>
<circle cx="273.40" cy="215.30" r="1.3" fill="#8e1a1a"/>
<circle cx="274.80" cy="205.10" r="1.3" fill="#8e1a1a"/>
<circle cx="272.90" cy="205.10" r="1.3" fill="#8e1a1a"/>
<circle cx="275.30" cy="194.40" r="1.3" fill="#8e1a1a"/>
<circle cx="278.70" cy="198.30" r="1.3" fill="#8e1a1a"/>
<circle cx="301.90" cy="191.60" r="1.3" fill="#8e1a1a"/>
<circle cx="305.80" cy="191.00" r="1.3" fill="#8e1a1a"/>
<circle cx="305.10" cy="193.60" r="1.3" fill="#8e1a1a"/>
<circle cx="300.90" cy="196.80" r="1.3" fill="#8e1a1a"/>
<circle cx="302.80" cy="197.50" r="1.3" fill="#8e1a1a"/>
<circle cx="306.70" cy="196.80" r="1.3" fill="#8e1a1a"/>
<circle cx="287.20" cy="199.60" r="1.3" fill="#8e1a1a"/>
<circle cx="291.60" cy="202.20" r="1.3" fill="#8e1a1a"/>
<circle cx="297.00" cy="200.70" r="1.3" fill="#8e1a1a"/>
<circle cx="291.60" cy="208.00" r="1.3" fill="#8e1a1a"/>
<circle cx="293.60" cy="207.50" r="1.3" fill="#8e1a1a"/>
<circle cx="296.50" cy="211.90" r="1.3" fill="#8e1a1a"/>
<circle cx="298.40" cy="210.40" r="1.3" fill="#8e1a1a"/>
<circle cx="298.40" cy="214.80" r="1.3" fill="#8e1a1a"/>
<circle cx="303.80" cy="212.90" r="1.3" fill="#8e1a1a"/>
<circle cx="292.60" cy="218.70" r="1.3" fill="#8e1a1a"/>
<circle cx="296.00" cy="219.00" r="1.3" fill="#8e1a1a"/>
<circle cx="283.80" cy="219.20" r="1.3" fill="#8e1a1a"/>
<circle cx="287.70" cy="222.60" r="1.3" fill="#8e1a1a"/>
<circle cx="306.70" cy="209.00" r="1.3" fill="#8e1a1a"/>
<circle cx="282.40" cy="227.00" r="1.3" fill="#8e1a1a"/>
<circle cx="289.70" cy="229.00" r="1.3" fill="#8e1a1a"/>
<circle cx="295.00" cy="226.80" r="1.3" fill="#8e1a1a"/>
<circle cx="304.30" cy="229.00" r="1.3" fill="#8e1a1a"/>
<circle cx="307.20" cy="224.60" r="1.3" fill="#8e1a1a"/>
<circle cx="318.10" cy="182.10" r="1.3" fill="#8e1a1a"/>
<circle cx="319.90" cy="189.30" r="1.3" fill="#8e1a1a"/>
<circle cx="312.40" cy="197.90" r="1.3" fill="#8e1a1a"/>
<circle cx="316.20" cy="196.70" r="1.3" fill="#8e1a1a"/>
<circle cx="322.70" cy="197.60" r="1.3" fill="#8e1a1a"/>
<circle cx="310.70" cy="204.50" r="1.3" fill="#8e1a1a"/>
<circle cx="313.60" cy="204.10" r="1.3" fill="#8e1a1a"/>
<circle cx="317.00" cy="199.90" r="1.3" fill="#8e1a1a"/>
<circle cx="326.10" cy="206.40" r="1.3" fill="#8e1a1a"/>
<circle cx="331.10" cy="204.50" r="1.3" fill="#8e1a1a"/>
<circle cx="309.00" cy="211.80" r="1.3" fill="#8e1a1a"/>
<circle cx="321.60" cy="211.00" r="1.3" fill="#8e1a1a"/>
<circle cx="309.00" cy="218.70" r="1.3" fill="#8e1a1a"/>
<circle cx="309.60" cy="220.40" r="1.3" fill="#8e1a1a"/>
<circle cx="311.90" cy="217.60" r="1.3" fill="#8e1a1a"/>
<circle cx="314.10" cy="219.90" r="1.3" fill="#8e1a1a"/>
<circle cx="318.70" cy="219.90" r="1.3" fill="#8e1a1a"/>
<circle cx="323.30" cy="221.90" r="1.3" fill="#8e1a1a"/>
<circle cx="326.10" cy="220.40" r="1.3" fill="#8e1a1a"/>
<circle cx="327.90" cy="223.10" r="1.3" fill="#8e1a1a"/>
<circle cx="331.90" cy="216.40" r="1.3" fill="#8e1a1a"/>
<circle cx="335.90" cy="218.70" r="1.3" fill="#8e1a1a"/>
<circle cx="334.10" cy="221.00" r="1.3" fill="#8e1a1a"/>
<circle cx="313.00" cy="225.60" r="1.3" fill="#8e1a1a"/>
<circle cx="327.30" cy="226.10" r="1.3" fill="#8e1a1a"/>
<circle cx="329.00" cy="229.60" r="1.3" fill="#8e1a1a"/>
<circle cx="334.70" cy="230.70" r="1.3" fill="#8e1a1a"/>
<circle cx="335.30" cy="235.60" r="1.3" fill="#8e1a1a"/>
<circle cx="332.40" cy="238.70" r="1.3" fill="#8e1a1a"/>
<circle cx="337.90" cy="238.10" r="1.3" fill="#8e1a1a"/>
<circle cx="333.00" cy="241.80" r="1.3" fill="#8e1a1a"/>
<circle cx="266.40" cy="221.00" r="1.3" fill="#8e1a1a"/>
<circle cx="282.10" cy="229.00" r="1.3" fill="#8e1a1a"/>
<text x="4.70" y="285.70" font-size="8.3" text-anchor="start" fill="#111" stroke="#111" stroke-width="0.25" font-weight="bold" >d</text>
<line x1="31.50" y1="285.50" x2="31.50" y2="372.50" stroke="#6e6e6e" stroke-width="1.1"/>
<line x1="28.50" y1="286.00" x2="31.50" y2="286.00" stroke="#6e6e6e" stroke-width="1.1"/>
<text x="25.00" y="288.90" font-size="8" text-anchor="end" fill="#222" stroke="#222" stroke-width="0.25" font-weight="normal" >1</text>
<line x1="29.50" y1="294.60" x2="31.50" y2="294.60" stroke="#6e6e6e" stroke-width="1.1"/>
<line x1="28.50" y1="303.20" x2="31.50" y2="303.20" stroke="#6e6e6e" stroke-width="1.1"/>
<text x="25.00" y="306.10" font-size="8" text-anchor="end" fill="#222" stroke="#222" stroke-width="0.25" font-weight="normal" >0.95</text>
<line x1="29.50" y1="311.80" x2="31.50" y2="311.80" stroke="#6e6e6e" stroke-width="1.1"/>
<line x1="28.50" y1="320.40" x2="31.50" y2="320.40" stroke="#6e6e6e" stroke-width="1.1"/>
<text x="25.00" y="323.30" font-size="8" text-anchor="end" fill="#222" stroke="#222" stroke-width="0.25" font-weight="normal" >0.9</text>
<line x1="29.50" y1="329.00" x2="31.50" y2="329.00" stroke="#6e6e6e" stroke-width="1.1"/>
<line x1="28.50" y1="337.60" x2="31.50" y2="337.60" stroke="#6e6e6e" stroke-width="1.1"/>
<text x="25.00" y="340.50" font-size="8" text-anchor="end" fill="#222" stroke="#222" stroke-width="0.25" font-weight="normal" >0.85</text>
<line x1="29.50" y1="346.20" x2="31.50" y2="346.20" stroke="#6e6e6e" stroke-width="1.1"/>
<line x1="28.50" y1="354.80" x2="31.50" y2="354.80" stroke="#6e6e6e" stroke-width="1.1"/>
<text x="25.00" y="357.70" font-size="8" text-anchor="end" fill="#222" stroke="#222" stroke-width="0.25" font-weight="normal" >0.8</text>
<line x1="29.50" y1="363.40" x2="31.50" y2="363.40" stroke="#6e6e6e" stroke-width="1.1"/>
<line x1="28.50" y1="372.00" x2="31.50" y2="372.00" stroke="#6e6e6e" stroke-width="1.1"/>
<text x="25.00" y="374.90" font-size="8" text-anchor="end" fill="#222" stroke="#222" stroke-width="0.25" font-weight="normal" >0.75</text>
<line x1="31.00" y1="372.50" x2="162.20" y2="372.50" stroke="#6e6e6e" stroke-width="1.1"/>
<line x1="31.50" y1="372.50" x2="31.50" y2="376.00" stroke="#6e6e6e" stroke-width="1.1"/>
<text transform="translate(34.60,380.0) rotate(-90)" font-size="7.4" text-anchor="end" fill="#222" stroke="#222" stroke-width="0.1">22 yrs</text>
<line x1="42.35" y1="372.50" x2="42.35" y2="376.00" stroke="#6e6e6e" stroke-width="1.1"/>
<text transform="translate(45.45,380.0) rotate(-90)" font-size="7.4" text-anchor="end" fill="#222" stroke="#222" stroke-width="0.1">15 yrs</text>
<line x1="53.20" y1="372.50" x2="53.20" y2="376.00" stroke="#6e6e6e" stroke-width="1.1"/>
<text transform="translate(56.30,380.0) rotate(-90)" font-size="7.4" text-anchor="end" fill="#222" stroke="#222" stroke-width="0.1">11 yrs</text>
<line x1="64.05" y1="372.50" x2="64.05" y2="376.00" stroke="#6e6e6e" stroke-width="1.1"/>
<text transform="translate(67.15,380.0) rotate(-90)" font-size="7.4" text-anchor="end" fill="#222" stroke="#222" stroke-width="0.1">10 yrs</text>
<line x1="74.90" y1="372.50" x2="74.90" y2="376.00" stroke="#6e6e6e" stroke-width="1.1"/>
<text transform="translate(78.00,380.0) rotate(-90)" font-size="7.4" text-anchor="end" fill="#222" stroke="#222" stroke-width="0.1">9 yrs</text>
<line x1="85.75" y1="372.50" x2="85.75" y2="376.00" stroke="#6e6e6e" stroke-width="1.1"/>
<text transform="translate(88.85,380.0) rotate(-90)" font-size="7.4" text-anchor="end" fill="#222" stroke="#222" stroke-width="0.1">8 yrs</text>
<line x1="96.60" y1="372.50" x2="96.60" y2="376.00" stroke="#6e6e6e" stroke-width="1.1"/>
<text transform="translate(99.70,380.0) rotate(-90)" font-size="7.4" text-anchor="end" fill="#222" stroke="#222" stroke-width="0.1">7 yrs</text>
<line x1="107.45" y1="372.50" x2="107.45" y2="376.00" stroke="#6e6e6e" stroke-width="1.1"/>
<text transform="translate(110.55,380.0) rotate(-90)" font-size="7.4" text-anchor="end" fill="#222" stroke="#222" stroke-width="0.1">6 yrs</text>
<line x1="118.30" y1="372.50" x2="118.30" y2="376.00" stroke="#6e6e6e" stroke-width="1.1"/>
<text transform="translate(121.40,380.0) rotate(-90)" font-size="7.4" text-anchor="end" fill="#222" stroke="#222" stroke-width="0.1">5 yrs</text>
<line x1="129.15" y1="372.50" x2="129.15" y2="376.00" stroke="#6e6e6e" stroke-width="1.1"/>
<text transform="translate(132.25,380.0) rotate(-90)" font-size="7.4" text-anchor="end" fill="#222" stroke="#222" stroke-width="0.1">4 yrs</text>
<line x1="140.00" y1="372.50" x2="140.00" y2="376.00" stroke="#6e6e6e" stroke-width="1.1"/>
<text transform="translate(143.10,380.0) rotate(-90)" font-size="7.4" text-anchor="end" fill="#222" stroke="#222" stroke-width="0.1">3 yrs</text>
<line x1="150.85" y1="372.50" x2="150.85" y2="376.00" stroke="#6e6e6e" stroke-width="1.1"/>
<text transform="translate(153.95,380.0) rotate(-90)" font-size="7.4" text-anchor="end" fill="#222" stroke="#222" stroke-width="0.1">2 yrs</text>
<line x1="161.70" y1="372.50" x2="161.70" y2="376.00" stroke="#6e6e6e" stroke-width="1.1"/>
<text transform="translate(164.80,380.0) rotate(-90)" font-size="7.4" text-anchor="end" fill="#222" stroke="#222" stroke-width="0.1">1 yr</text>
<text x="97.00" y="408.90" font-size="8.5" text-anchor="middle" fill="#111" stroke="#111" stroke-width="0.25" font-weight="normal" >multi-year sampling</text>
<text transform="translate(8.6,328.8) rotate(-90)" font-size="8.8" text-anchor="middle" fill="#222" stroke="#222" stroke-width="0.25">correlation coeff.</text>
<polyline points="31.50,290.50 42.35,291.90 53.20,292.60 64.05,291.90 74.90,289.40 85.75,286.60 96.60,287.10 107.45,287.60 118.30,287.10 129.15,287.10 140.00,287.60 150.85,319.60 161.70,303.40" fill="none" stroke="#666" stroke-width="1.0" stroke-linejoin="round" stroke-dasharray="3.5 2.8"/>
<circle cx="31.50" cy="290.50" r="2.3" fill="#111"/>
<circle cx="42.35" cy="291.90" r="2.3" fill="#111"/>
<circle cx="53.20" cy="292.60" r="2.3" fill="#111"/>
<circle cx="64.05" cy="291.90" r="2.3" fill="#111"/>
<circle cx="74.90" cy="289.40" r="2.3" fill="#111"/>
<circle cx="85.75" cy="286.60" r="2.3" fill="#111"/>
<circle cx="96.60" cy="287.10" r="2.3" fill="#111"/>
<circle cx="107.45" cy="287.60" r="2.3" fill="#111"/>
<circle cx="118.30" cy="287.10" r="2.3" fill="#111"/>
<circle cx="129.15" cy="287.10" r="2.3" fill="#111"/>
<circle cx="140.00" cy="287.60" r="2.3" fill="#111"/>
<circle cx="150.85" cy="319.60" r="2.3" fill="#111"/>
<circle cx="161.70" cy="303.40" r="2.3" fill="#111"/>
<text x="182.70" y="285.60" font-size="8.3" text-anchor="start" fill="#111" stroke="#111" stroke-width="0.25" font-weight="bold" >e</text>
<line x1="211.50" y1="285.50" x2="211.50" y2="372.50" stroke="#6e6e6e" stroke-width="1.1"/>
<line x1="208.50" y1="286.00" x2="211.50" y2="286.00" stroke="#6e6e6e" stroke-width="1.1"/>
<text x="205.00" y="288.90" font-size="8" text-anchor="end" fill="#222" stroke="#222" stroke-width="0.25" font-weight="normal" >1</text>
<line x1="209.50" y1="294.60" x2="211.50" y2="294.60" stroke="#6e6e6e" stroke-width="1.1"/>
<line x1="208.50" y1="303.20" x2="211.50" y2="303.20" stroke="#6e6e6e" stroke-width="1.1"/>
<text x="205.00" y="306.10" font-size="8" text-anchor="end" fill="#222" stroke="#222" stroke-width="0.25" font-weight="normal" >0.95</text>
<line x1="209.50" y1="311.80" x2="211.50" y2="311.80" stroke="#6e6e6e" stroke-width="1.1"/>
<line x1="208.50" y1="320.40" x2="211.50" y2="320.40" stroke="#6e6e6e" stroke-width="1.1"/>
<text x="205.00" y="323.30" font-size="8" text-anchor="end" fill="#222" stroke="#222" stroke-width="0.25" font-weight="normal" >0.9</text>
<line x1="209.50" y1="329.00" x2="211.50" y2="329.00" stroke="#6e6e6e" stroke-width="1.1"/>
<line x1="208.50" y1="337.60" x2="211.50" y2="337.60" stroke="#6e6e6e" stroke-width="1.1"/>
<text x="205.00" y="340.50" font-size="8" text-anchor="end" fill="#222" stroke="#222" stroke-width="0.25" font-weight="normal" >0.85</text>
<line x1="209.50" y1="346.20" x2="211.50" y2="346.20" stroke="#6e6e6e" stroke-width="1.1"/>
<line x1="208.50" y1="354.80" x2="211.50" y2="354.80" stroke="#6e6e6e" stroke-width="1.1"/>
<text x="205.00" y="357.70" font-size="8" text-anchor="end" fill="#222" stroke="#222" stroke-width="0.25" font-weight="normal" >0.8</text>
<line x1="209.50" y1="363.40" x2="211.50" y2="363.40" stroke="#6e6e6e" stroke-width="1.1"/>
<line x1="208.50" y1="372.00" x2="211.50" y2="372.00" stroke="#6e6e6e" stroke-width="1.1"/>
<text x="205.00" y="374.90" font-size="8" text-anchor="end" fill="#222" stroke="#222" stroke-width="0.25" font-weight="normal" >0.75</text>
<line x1="211.00" y1="372.50" x2="341.99" y2="372.50" stroke="#6e6e6e" stroke-width="1.1"/>
<line x1="211.50" y1="372.50" x2="211.50" y2="376.00" stroke="#6e6e6e" stroke-width="1.1"/>
<text transform="translate(214.60,380.0) rotate(-90)" font-size="7.4" text-anchor="end" fill="#222" stroke="#222" stroke-width="0.1">11 yrs</text>
<line x1="230.07" y1="372.50" x2="230.07" y2="376.00" stroke="#6e6e6e" stroke-width="1.1"/>
<text transform="translate(233.17,380.0) rotate(-90)" font-size="7.4" text-anchor="end" fill="#222" stroke="#222" stroke-width="0.1">10 yrs</text>
<line x1="248.64" y1="372.50" x2="248.64" y2="376.00" stroke="#6e6e6e" stroke-width="1.1"/>
<text transform="translate(251.74,380.0) rotate(-90)" font-size="7.4" text-anchor="end" fill="#222" stroke="#222" stroke-width="0.1">7 yrs</text>
<line x1="267.21" y1="372.50" x2="267.21" y2="376.00" stroke="#6e6e6e" stroke-width="1.1"/>
<text transform="translate(270.31,380.0) rotate(-90)" font-size="7.4" text-anchor="end" fill="#222" stroke="#222" stroke-width="0.1">6 yrs</text>
<line x1="285.78" y1="372.50" x2="285.78" y2="376.00" stroke="#6e6e6e" stroke-width="1.1"/>
<text transform="translate(288.88,380.0) rotate(-90)" font-size="7.4" text-anchor="end" fill="#222" stroke="#222" stroke-width="0.1">5 yrs</text>
<line x1="304.35" y1="372.50" x2="304.35" y2="376.00" stroke="#6e6e6e" stroke-width="1.1"/>
<text transform="translate(307.45,380.0) rotate(-90)" font-size="7.4" text-anchor="end" fill="#222" stroke="#222" stroke-width="0.1">4 yrs</text>
<line x1="322.92" y1="372.50" x2="322.92" y2="376.00" stroke="#6e6e6e" stroke-width="1.1"/>
<text transform="translate(326.02,380.0) rotate(-90)" font-size="7.4" text-anchor="end" fill="#222" stroke="#222" stroke-width="0.1">3 yrs</text>
<line x1="341.49" y1="372.50" x2="341.49" y2="376.00" stroke="#6e6e6e" stroke-width="1.1"/>
<text transform="translate(344.59,380.0) rotate(-90)" font-size="7.4" text-anchor="end" fill="#222" stroke="#222" stroke-width="0.1">2 yrs</text>
<text x="276.60" y="408.60" font-size="8.5" text-anchor="middle" fill="#111" stroke="#111" stroke-width="0.25" font-weight="normal" >single-point sampling</text>
<text transform="translate(188.6,328.8) rotate(-90)" font-size="8.8" text-anchor="middle" fill="#222" stroke="#222" stroke-width="0.25">correlation coeff.</text>
<polyline points="211.50,361.00 230.07,356.40 248.64,327.40 267.21,334.40 285.78,316.00 304.35,309.60 322.92,302.40 341.49,303.60" fill="none" stroke="#666" stroke-width="1.0" stroke-linejoin="round" stroke-dasharray="3.5 2.8"/>
<circle cx="211.50" cy="361.00" r="2.3" fill="#111"/>
<circle cx="230.07" cy="356.40" r="2.3" fill="#111"/>
<circle cx="248.64" cy="327.40" r="2.3" fill="#111"/>
<circle cx="267.21" cy="334.40" r="2.3" fill="#111"/>
<circle cx="285.78" cy="316.00" r="2.3" fill="#111"/>
<circle cx="304.35" cy="309.60" r="2.3" fill="#111"/>
<circle cx="322.92" cy="302.40" r="2.3" fill="#111"/>
<circle cx="341.49" cy="303.60" r="2.3" fill="#111"/></svg></body></html>
